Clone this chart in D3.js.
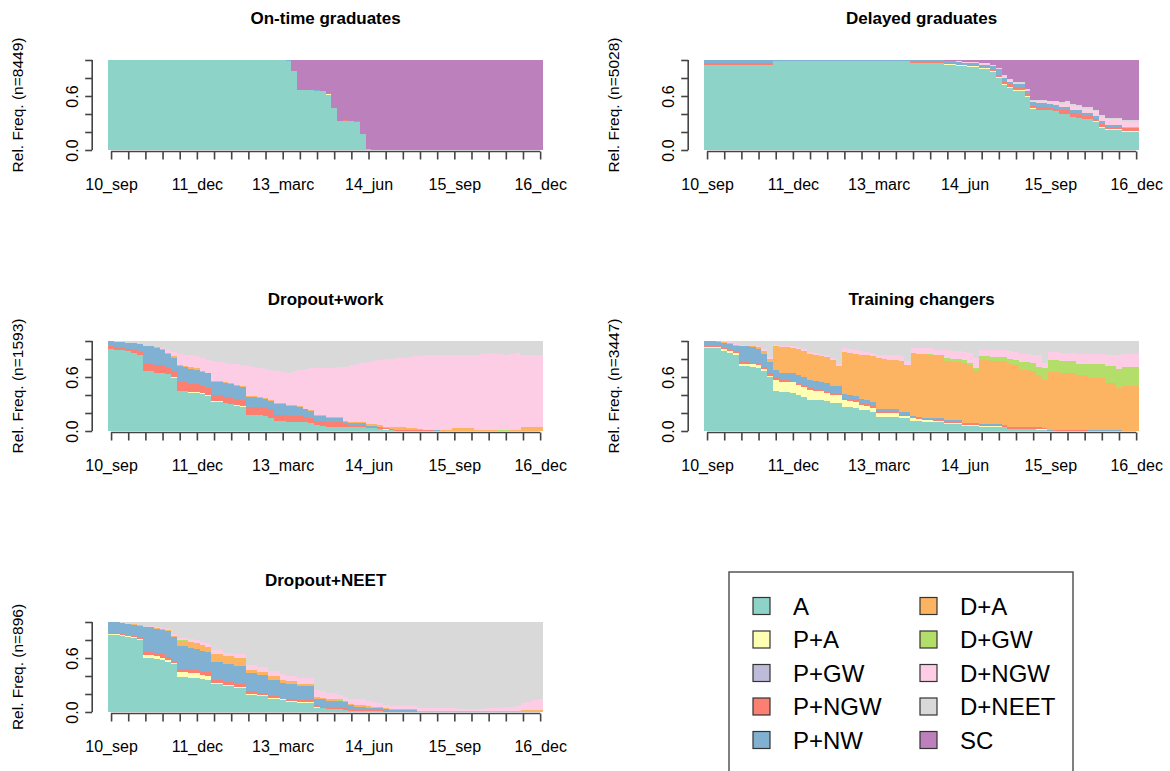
<!DOCTYPE html>
<html>
<head>
<meta charset="utf-8">
<script src="https://cdn.jsdelivr.net/npm/d3@7"></script>
<style>
body { margin: 0; background: #fff; }
svg { display: block; font-family: "Liberation Sans", Arial, sans-serif; }
</style>
</head>
<body>
<script>
// state distribution plots, 76 months (10_sep .. 16_dec)
// every series is a list of steps: [first month, share] -> share holds until the next step

var states = ["A", "P+A", "P+GW", "P+NGW", "P+NW", "D+A", "D+GW", "D+NGW", "D+NEET", "SC"];
var tickLabels = ["10_sep", "11_dec", "13_marc", "14_jun", "15_sep", "16_dec"];
var clusterNames = ["On-time graduates", "Delayed graduates", "Dropout+work", "Training changers", "Dropout+NEET"];
var clusterN = [8449, 5028, 1593, 3447, 896];

// On-time graduates
var ontimeA = [[0,1],[31,.99],[32,.88],[33,.67],[36,.66],[38,.61],[39,.47],[40,.32],[43,.31],[44,.18],[45,.01],[46,0]];
var ontimePA = [[0,0],[38,.01],[39,0]];
var ontimePNGW = [[0,0],[41,.01],[42,0],[43,.01],[44,0]];
var ontimePNW = [[0,0],[31,.01],[32,0],[36,.01],[37,0]];
var ontimeSC = [[0,0],[32,.12],[33,.33],[37,.34],[38,.38],[39,.53],[40,.68],[41,.67],[42,.68],[44,.82],[45,.99],[46,1]];

// Delayed graduates
var delayedA = [[0,.95],[12,.99],[36,.97],[42,.95],[44,.93],[46,.92],[48,.90],[50,.87],[51,.80],[52,.72],[53,.69],[54,.66],[56,.59],[57,.46],[58,.44],[61,.43],[62,.40],[64,.37],[65,.36],[66,.34],[68,.31],[69,.25],[70,.22],[73,.20]];
var delayedPA = [[0,0],[42,.01],[60,0],[68,.01]];
var delayedPNGW = [[0,.02],[12,0],[36,.02],[42,.01],[46,.02],[48,.01],[50,.02],[52,.03],[56,.02],[58,.03],[62,.04],[68,.03]];
var delayedPNW = [[0,.03],[12,.01],[42,.02],[44,.03],[45,.02],[48,.03],[51,.07],[52,.04],[53,.03],[56,.04],[66,.03],[70,.02],[73,.01]];
var delayedDA = [[0,0],[73,.01]];
var delayedDNGW = [[0,0],[44,.01],[48,.02],[50,.01],[52,.02],[56,.01],[57,.02],[58,.03],[63,.04],[66,.05],[70,.06],[73,.05]];
var delayedDNEET = [[0,0],[52,.01],[61,.02]];
var delayedSC = [[0,0],[42,.01],[45,.02],[48,.03],[50,.06],[51,.09],[52,.17],[53,.21],[54,.24],[56,.32],[57,.44],[60,.45],[62,.47],[63,.46],[64,.49],[65,.50],[66,.52],[68,.55],[69,.61],[70,.64],[73,.67]];

// Dropout+work
var workA = [[0,.91],[1,.90],[3,.89],[4,.87],[5,.85],[6,.67],[8,.65],[10,.63],[11,.59],[12,.44],[14,.42],[16,.41],[17,.39],[18,.32],[20,.31],[21,.30],[22,.28],[23,.27],[24,.18],[27,.17],[28,.15],[29,.11],[31,.10],[35,.09],[36,.07],[37,.06],[38,.05],[42,.04],[45,.03],[47,.02],[48,.01],[50,0]];
var workPA = [[0,0],[11,.01],[20,0],[22,.01],[24,0],[48,.01],[49,0]];
var workPNGW = [[0,.03],[3,.02],[4,.03],[6,.08],[11,.07],[12,.10],[14,.09],[16,.08],[18,.07],[24,.09],[29,.07],[34,.06],[36,.04],[37,.05],[41,.03],[42,.02],[48,.01],[57,0]];
var workPNW = [[0,.06],[3,.07],[4,.08],[5,.09],[6,.20],[8,.19],[9,.17],[10,.15],[11,.14],[12,.17],[13,.16],[14,.17],[15,.16],[18,.15],[22,.14],[24,.11],[26,.10],[28,.09],[29,.12],[31,.11],[33,.10],[34,.08],[35,.07],[36,.06],[38,.05],[41,.02],[42,.03],[45,.01],[47,0],[57,.01],[58,0]];
var workDA = [[0,0],[8,.01],[11,.02],[12,.01],[14,.02],[16,.01],[45,.02],[47,.03],[48,.02],[50,.03],[52,.02],[54,.01],[55,0],[58,.01],[60,.03],[64,.01],[68,0],[70,.01],[72,.05]];
var workDGW = [[0,0],[68,.01],[70,0]];
var workDNGW = [[0,0],[9,.01],[10,.03],[11,.05],[12,.13],[16,.14],[18,.22],[19,.21],[20,.22],[22,.23],[24,.33],[25,.32],[28,.34],[29,.36],[30,.35],[31,.36],[32,.38],[33,.40],[34,.44],[35,.47],[36,.52],[38,.54],[40,.55],[41,.60],[42,.63],[43,.65],[44,.66],[45,.69],[46,.70],[47,.72],[48,.75],[49,.76],[50,.77],[52,.79],[53,.80],[54,.81],[55,.83],[58,.84],[60,.82],[64,.84],[65,.85],[66,.86],[68,.85],[69,.84],[70,.85],[71,.86],[72,.80]];
var workDNEET = [[0,0],[1,.01],[3,.02],[5,.03],[6,.05],[8,.07],[9,.08],[10,.10],[11,.12],[12,.14],[13,.15],[14,.16],[15,.17],[16,.19],[17,.21],[18,.22],[19,.23],[20,.24],[21,.25],[22,.26],[23,.27],[24,.28],[25,.29],[26,.30],[27,.31],[28,.32],[29,.33],[30,.34],[31,.35],[32,.33],[33,.32],[34,.31],[35,.30],[40,.29],[42,.27],[43,.25],[44,.24],[45,.23],[46,.22],[47,.21],[48,.20],[50,.19],[52,.18],[53,.17],[55,.16],[58,.15],[65,.14],[66,.13],[68,.14],[69,.15],[70,.14],[71,.13],[72,.15]];

// Training changers
var changeA = [[0,.92],[3,.89],[4,.87],[5,.85],[6,.72],[8,.71],[9,.70],[10,.67],[11,.60],[12,.44],[13,.43],[15,.42],[16,.40],[17,.38],[18,.35],[20,.34],[21,.33],[22,.31],[24,.27],[26,.26],[27,.23],[29,.21],[30,.16],[34,.14],[36,.11],[38,.10],[42,.08],[45,.06],[48,.05],[52,.04],[53,.02],[58,.01],[60,0]];
var changePA = [[0,.01],[3,.02],[6,.03],[10,.02],[11,.01],[12,.13],[13,.12],[16,.11],[19,.10],[21,.09],[24,.07],[25,.06],[28,.05],[30,.04],[34,.03],[37,.02],[40,.01],[53,0],[58,.01],[60,0]];
var changePNGW = [[0,.02],[3,.01],[6,.02],[11,.04],[12,.03],[13,.02],[32,.01],[53,.02],[59,.01],[60,0],[61,.01],[67,0]];
var changePNW = [[0,.05],[2,.04],[3,.06],[4,.07],[6,.17],[9,.16],[10,.15],[11,.12],[12,.08],[16,.09],[22,.08],[24,.05],[29,.04],[30,.03],[36,.02],[45,.01],[53,0],[60,.01],[61,0],[67,.01],[73,0]];
var changeDA = [[0,0],[2,.01],[9,.02],[10,.03],[12,.26],[13,.28],[16,.29],[20,.28],[21,.29],[23,.22],[24,.47],[27,.49],[29,.51],[30,.56],[31,.55],[34,.57],[35,.52],[36,.70],[38,.71],[39,.70],[42,.66],[43,.65],[45,.67],[46,.64],[47,.58],[48,.71],[50,.70],[52,.71],[53,.70],[54,.69],[55,.64],[57,.63],[58,.58],[59,.54],[60,.65],[62,.64],[65,.61],[67,.58],[70,.52],[72,.47],[73,.50]];
var changeDGW = [[0,0],[39,.01],[42,.03],[48,.04],[53,.06],[55,.09],[59,.13],[67,.16],[70,.19],[72,.21]];
var changeDNGW = [[0,0],[3,.01],[10,.02],[24,.04],[31,.05],[37,.06],[40,.05],[42,.09],[46,.11],[48,.07],[50,.08],[53,.09],[58,.13],[59,.06],[60,.09],[65,.11],[70,.13],[72,.15]];
var changeDNEET = [[0,0],[4,.01],[5,.03],[6,.04],[8,.05],[9,.06],[10,.09],[11,.18],[12,.04],[13,.05],[15,.06],[16,.07],[17,.09],[18,.12],[19,.13],[20,.15],[21,.16],[22,.19],[23,.26],[24,.08],[25,.09],[26,.10],[27,.11],[28,.12],[29,.13],[30,.15],[32,.16],[34,.17],[35,.22],[36,.08],[40,.10],[43,.11],[45,.12],[46,.13],[47,.19],[48,.10],[53,.11],[54,.12],[55,.14],[57,.15],[58,.16],[59,.24],[60,.12],[62,.13],[65,.14],[70,.15],[72,.16],[73,.14]];

// Dropout+NEET
var neetA = [[0,.86],[2,.85],[3,.83],[4,.82],[5,.80],[6,.60],[8,.59],[9,.58],[10,.56],[11,.53],[12,.39],[14,.38],[16,.37],[17,.36],[18,.31],[20,.29],[22,.27],[24,.19],[26,.18],[28,.15],[30,.13],[31,.11],[33,.10],[36,.05],[37,.04],[38,.03],[41,.02],[42,.01],[48,0]];
var neetPA = [[0,.01],[6,.03],[9,.02],[11,.01],[12,.05],[16,.04],[18,.01],[37,0]];
var neetPNGW = [[0,.01],[6,.04],[10,.03],[12,.04],[20,.03],[26,.02],[30,.01],[31,.02],[40,.01],[41,.02],[42,.01],[49,0]];
var neetPNW = [[0,.12],[3,.13],[5,.14],[6,.27],[8,.26],[9,.27],[10,.29],[11,.26],[12,.25],[14,.24],[15,.23],[18,.20],[28,.18],[30,.17],[33,.16],[36,.07],[37,.08],[38,.07],[40,.08],[41,.07],[42,.06],[43,.04],[45,.03],[46,.02],[54,0]];
var neetDA = [[0,0],[4,.01],[11,.02],[12,.06],[14,.07],[16,.06],[17,.05],[18,.09],[24,.04],[33,.02],[40,0],[41,.01],[43,.02],[46,.01],[47,.02],[48,.01],[72,.02]];
var neetDGW = [[0,0],[12,.01],[14,0],[40,.02],[41,0],[46,.01],[47,0]];
var neetDNGW = [[0,0],[7,.01],[11,.02],[14,.03],[16,.04],[17,.05],[18,.04],[24,.05],[28,.06],[31,.05],[33,.07],[40,.05],[43,.06],[45,.05],[47,.04],[61,.02],[66,.03],[67,.04],[69,.05],[71,.06],[72,.08],[73,.09],[74,.11],[75,.13]];
var neetDNEET = [[0,0],[2,.01],[3,.02],[5,.03],[6,.05],[7,.04],[8,.06],[9,.07],[10,.08],[11,.13],[12,.18],[14,.19],[15,.20],[16,.22],[17,.23],[18,.31],[20,.34],[22,.36],[24,.48],[26,.50],[28,.54],[30,.58],[31,.60],[33,.62],[36,.76],[37,.77],[38,.79],[40,.81],[41,.83],[42,.86],[45,.88],[46,.89],[47,.90],[48,.92],[49,.93],[54,.95],[61,.97],[66,.96],[67,.95],[69,.94],[71,.93],[72,.90],[73,.89],[74,.87],[75,.85]];

var nMonths = 76;
var colors = d3.schemeSet3.slice(0, 10);

// series of each panel, in the order of states (null = state not seen)
var panelSeries = [
	[ontimeA, ontimePA, null, ontimePNGW, ontimePNW, null, null, null, null, ontimeSC],
	[delayedA, delayedPA, null, delayedPNGW, delayedPNW, delayedDA, null, delayedDNGW, delayedDNEET, delayedSC],
	[workA, workPA, null, workPNGW, workPNW, workDA, workDGW, workDNGW, workDNEET, null],
	[changeA, changePA, null, changePNGW, changePNW, changeDA, changeDGW, changeDNGW, changeDNEET, null],
	[neetA, neetPA, null, neetPNGW, neetPNW, neetDA, neetDGW, neetDNGW, neetDNEET, null]
];

function expandSteps(steps){
	var out = [];
	var k = 0;
	for (var m = 0; m < nMonths; m++){
		if (!steps){ out.push(0); continue; }
		while (k + 1 < steps.length && steps[k + 1][0] <= m) k++;
		out.push(steps[k][0] <= m ? steps[k][1] : 0);
	}
	return out;
}

var svg = d3.select("body").append("svg")
	.attr("width", 1170)
	.attr("height", 771);

// plot regions
var plotW = 434.8, plotH = 90;
var lefts = [108.2, 704.2];
var tops = [60, 341, 622];

function drawPanel(p){
	var x0 = lefts[p % 2], y0 = tops[Math.floor(p / 2)];

	// rows for d3.stack
	var cols = panelSeries[p].map(expandSteps);
	var rows = [];
	for (var m = 0; m < nMonths; m++){
		var r = {month: m};
		states.forEach(function(s, i){ r[s] = cols[i][m]; });
		rows.push(r);
	}
	var stacked = d3.stack().keys(states).offset(d3.stackOffsetExpand)(rows);

	var x = d3.scaleLinear().domain([0, nMonths]).range([x0, x0 + plotW]);
	var y = d3.scaleLinear().domain([0, 1]).range([y0 + plotH, y0]);

	var g = svg.append("g");

	g.selectAll("g.layer")
		.data(stacked)
		.enter()
		.append("g")
		.attr("fill", function(d, i){ return colors[i]; })
		.selectAll("rect")
		.data(function(d){ return d.filter(function(v){ return v[1] - v[0] > 0; }); })
		.enter()
		.append("rect")
		.attr("x", function(d){ return x(d.data.month); })
		.attr("width", function(d){ return x(d.data.month + 1) - x(d.data.month) + 0.4; })
		.attr("y", function(d){ return y(d[1]); })
		.attr("height", function(d){ return y(d[0]) - y(d[1]); })
		.attr("shape-rendering", "crispEdges");

	// x axis: a tick every 3 months, label every 15
	var tickPos = d3.range(0, nMonths, 3).map(function(m){ return m + 0.5; });
	var xAxis = d3.axisBottom(x)
		.tickValues(tickPos)
		.tickSize(8)
		.tickSizeOuter(0)
		.tickPadding(19)
		.tickFormat(function(d, i){ return i % 5 == 0 ? tickLabels[i / 5] : ""; });

	var gx = g.append("g")
		.attr("transform", "translate(0," + (y0 + plotH + 1.5) + ")")
		.call(xAxis);
	gx.select(".domain").attr("d", "M" + x(tickPos[0]) + ",0H" + x(tickPos[tickPos.length - 1]));

	// y axis
	var yAxis = d3.axisLeft(y)
		.tickValues([0, 0.2, 0.4, 0.6, 0.8, 1])
		.tickSize(7)
		.tickSizeOuter(0)
		.tickFormat(function(d){ return d == 0 ? "0.0" : (Math.abs(d - 0.6) < 1e-9 ? "0.6" : ""); });

	var gy = g.append("g")
		.attr("transform", "translate(" + (x0 - 16) + ",0)")
		.call(yAxis);
	gy.select(".domain").attr("d", "M0," + y(0) + "V" + y(1));
	gy.selectAll(".tick text")
		.attr("x", null)
		.attr("dy", null)
		.attr("text-anchor", "middle")
		.attr("transform", "translate(-14,0) rotate(-90)");

	[gx, gy].forEach(function(a){
		a.selectAll(".domain, .tick line").attr("stroke", "#444").attr("stroke-width", 1.6);
		a.selectAll(".tick text").attr("fill", "#000").style("font-size", "16px").style("font-family", "Liberation Sans, Arial, sans-serif");
	});

	// title and y label
	g.append("text")
		.attr("x", x0 + plotW / 2)
		.attr("y", y0 - 36)
		.attr("text-anchor", "middle")
		.style("font-size", "17px")
		.style("font-weight", "bold")
		.text(clusterNames[p]);

	g.append("text")
		.attr("transform", "translate(" + (x0 - 85) + "," + (y0 + plotH / 2) + ") rotate(-90)")
		.attr("text-anchor", "middle")
		.style("font-size", "15.5px")
		.text("Rel. Freq. (n=" + clusterN[p] + ")");
}

for (var p = 0; p < clusterNames.length; p++){
	drawPanel(p);
}

// legend
var leg = svg.append("g");
leg.append("rect")
	.attr("x", 729).attr("y", 572)
	.attr("width", 344).attr("height", 260)
	.attr("fill", "#fff")
	.attr("stroke", "#555")
	.attr("stroke-width", 1.5);

states.forEach(function(s, i){
	var col = Math.floor(i / 5), row = i % 5;
	var cy = 606 + row * 33.5;
	var sx = 753 + col * 167;
	leg.append("rect")
		.attr("x", sx).attr("y", cy - 8.5)
		.attr("width", 17).attr("height", 17)
		.attr("fill", colors[i])
		.attr("stroke", "#333")
		.attr("stroke-width", 1.2);
	leg.append("text")
		.attr("x", sx + 40)
		.attr("y", cy + 8.5)
		.style("font-size", "24px")
		.text(s);
});
</script>
</body>
</html>
